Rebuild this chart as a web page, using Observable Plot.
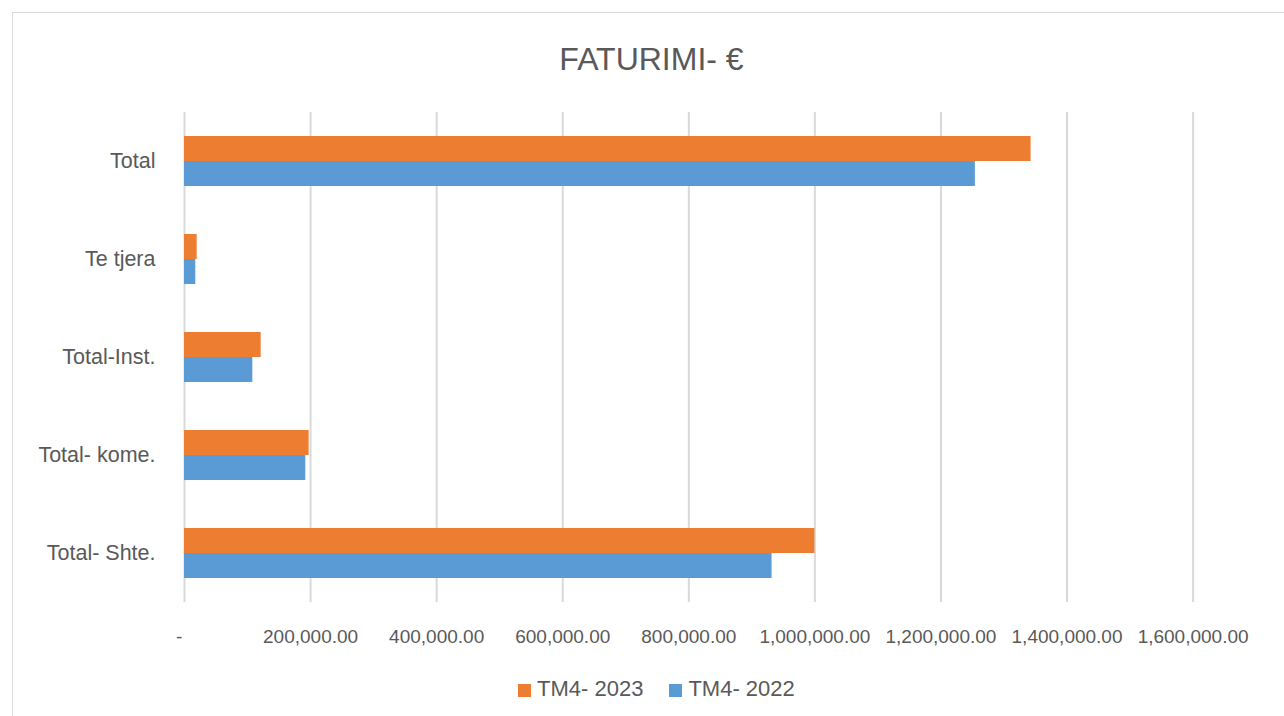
<!DOCTYPE html>
<html>
<head>
<meta charset="utf-8">
<script src="https://cdn.jsdelivr.net/npm/d3@7"></script>
<script src="https://cdn.jsdelivr.net/npm/@observablehq/plot@0.6"></script>
<style>
  html, body { margin: 0; padding: 0; background: #fff; overflow: hidden; }
  body { width: 1284px; height: 716px; position: relative; font-family: "Liberation Sans", Arial, sans-serif; color: #595959; }
  #frame { position: absolute; left: 12px; top: 12px; width: 1300px; height: 720px; border: 1px solid #d9d9d9; box-sizing: border-box; }
  #title { position: absolute; left: 12px; width: 1279px; top: 43px; text-align: center; font-size: 32px; line-height: 32px; color: #595959; }
  #chart { position: absolute; left: 0; top: 0; }
  #legend { position: absolute; left: 518px; top: 676px; display: flex; align-items: center; font-size: 22px; line-height: 26px; color: #595959; }
  #legend .item { display: flex; align-items: center; margin-right: 26px; }
  #legend .sw { width: 13px; height: 13px; margin-right: 6px; margin-top: 2px; }
</style>
</head>
<body>
<div id="frame"></div>
<div id="title">FATURIMI- €</div>
<div id="chart"></div>
<div id="legend"></div>
<script>
const categories = ["Total", "Te tjera", "Total-Inst.", "Total- kome.", "Total- Shte."];
const series = ["TM4- 2023", "TM4- 2022"];
const values2023 = [1343000, 20100, 121600, 197700, 1000000];
const values2022 = [1254600, 17900, 108400, 192400, 932100];
const colors = ["#ED7D31", "#5B9BD5"];
const xTicks = [0, 200000, 400000, 600000, 800000, 1000000, 1200000, 1400000, 1600000];

const data = [];
categories.forEach((c, i) => {
  data.push({category: c, series: series[0], value: values2023[i]});
  data.push({category: c, series: series[1], value: values2022[i]});
});

const fmt = d3.format(",.2f");
const tickFormat = d => d === 0 ? "-\u00a0\u00a0" : fmt(d);

const chart = Plot.plot({
  width: 1284,
  height: 650,
  marginLeft: 184,
  marginRight: 91.4,
  marginTop: 110,
  marginBottom: 47,
  style: {fontFamily: "'Liberation Sans', Arial, sans-serif", color: "#595959", background: "transparent"},
  x: {domain: [0, 1600000], axis: null},
  y: {domain: series, paddingInner: 0, paddingOuter: 0.92, axis: null},
  fy: {domain: categories, padding: 0, axis: null},
  color: {domain: series, range: colors},
  marks: [
    Plot.ruleX(xTicks, {stroke: "#d9d9d9", strokeWidth: 2}),
    Plot.barX(data, {x: "value", y: "series", fy: "category", fill: "series", inset: 0}),
    Plot.axisX({ticks: xTicks, tickFormat, tickSize: 0, tickPadding: 27, fontSize: 19, anchor: "bottom", fill: "#595959", label: null}),
    Plot.axisFy({tickSize: 0, tickPadding: 29, fontSize: 21.5, anchor: "left", fill: "#595959", label: null})
  ]
});
document.getElementById("chart").appendChild(chart);

const legend = document.getElementById("legend");
series.forEach((s, i) => {
  const item = document.createElement("div");
  item.className = "item";
  const sw = document.createElement("div");
  sw.className = "sw";
  sw.style.background = colors[i];
  const t = document.createElement("span");
  t.textContent = s;
  item.appendChild(sw);
  item.appendChild(t);
  legend.appendChild(item);
});
</script>
</body>
</html>
